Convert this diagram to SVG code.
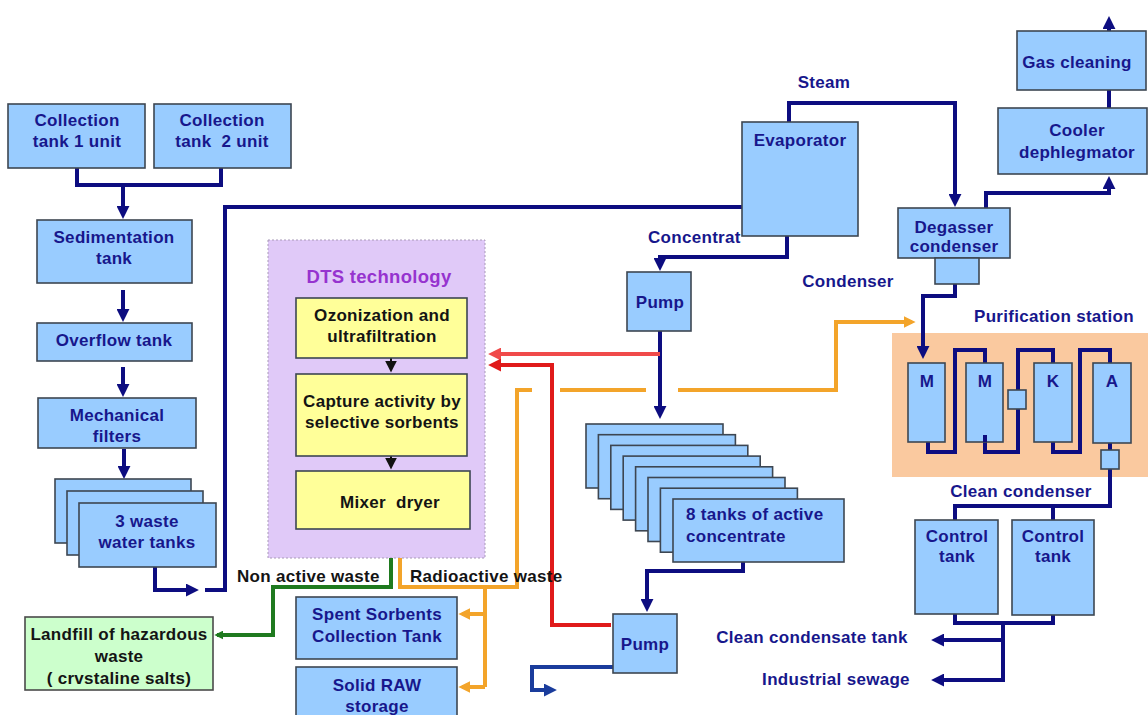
<svg xmlns="http://www.w3.org/2000/svg" width="1148" height="715" viewBox="0 0 1148 715">
  <style>
    .box { fill: #99ccff; stroke: #3d4652; stroke-width: 1.6; }
    .yel { fill: #ffff99; stroke: #3d4652; stroke-width: 1.6; }
    .grn { fill: #ccffcc; stroke: #4a4a4a; stroke-width: 1.6; }
    .t { font-family: "Liberation Sans", Arial, sans-serif; font-weight: bold; font-size: 17px; fill: #17178c; text-anchor: middle; letter-spacing: 0.3px; }
    .k { fill: #141414; }
    .st { text-anchor: start; }
    .navy { fill: none; stroke: #0d0d80; stroke-width: 4; }
    .red1 { fill: none; stroke: #f04a4a; stroke-width: 4; }
    .red2 { fill: none; stroke: #e01a1a; stroke-width: 4; }
    .org { fill: none; stroke: #f3a42a; stroke-width: 4; }
    .gr { fill: none; stroke: #1f7a1f; stroke-width: 4; }
  </style>
  <defs>
    <marker id="ah-navy" viewBox="0 0 10 10" refX="7" refY="5" markerWidth="13" markerHeight="13" markerUnits="userSpaceOnUse" orient="auto">
      <path d="M0,0 L10,5 L0,10 z" fill="#0d0d80"/>
    </marker>
    <marker id="ah-blue" viewBox="0 0 10 10" refX="7" refY="5" markerWidth="13" markerHeight="13" markerUnits="userSpaceOnUse" orient="auto">
      <path d="M0,0 L10,5 L0,10 z" fill="#1a3c9c"/>
    </marker>
    <marker id="ah-red1" viewBox="0 0 10 10" refX="7" refY="5" markerWidth="13" markerHeight="13" markerUnits="userSpaceOnUse" orient="auto">
      <path d="M0,0 L10,5 L0,10 z" fill="#f04a4a"/>
    </marker>
    <marker id="ah-red2" viewBox="0 0 10 10" refX="7" refY="5" markerWidth="13" markerHeight="13" markerUnits="userSpaceOnUse" orient="auto">
      <path d="M0,0 L10,5 L0,10 z" fill="#e01a1a"/>
    </marker>
    <marker id="ah-org" viewBox="0 0 10 10" refX="7" refY="5" markerWidth="12" markerHeight="12" markerUnits="userSpaceOnUse" orient="auto">
      <path d="M0,0 L10,5 L0,10 z" fill="#f3a42a"/>
    </marker>
    <marker id="ah-grn" viewBox="0 0 10 10" refX="7" refY="5" markerWidth="9" markerHeight="9" markerUnits="userSpaceOnUse" orient="auto">
      <path d="M0,0 L10,5 L0,10 z" fill="#1f7a1f"/>
    </marker>
    <marker id="ah-k" viewBox="0 0 10 10" refX="7" refY="5" markerWidth="12" markerHeight="12" markerUnits="userSpaceOnUse" orient="auto">
      <path d="M0,0 L10,5 L0,10 z" fill="#111"/>
    </marker>
  </defs>

  <rect width="1148" height="715" fill="#ffffff"/>

  <!-- purification station background -->
  <g id="purification-station">
    <rect x="892" y="333" width="256" height="144" fill="#fac99f"/>
    <text class="t" x="1054" y="322">Purification station</text>
  </g>

  <!-- DTS technology block -->
  <g id="dts">
    <rect x="268" y="240" width="217" height="318" fill="#e0c9f8" stroke="#a99ab8" stroke-width="1" stroke-dasharray="2,2"/>
    <text class="t" x="379" y="283" style="fill:#9633cf;font-size:18.5px">DTS technology</text>
  </g>

  <!-- connectors -->
  <g id="connectors">
    <!-- collection tanks to sedimentation -->
    <path class="navy" d="M77,168 V185 H221 V168"/>
    <path class="navy" d="M123,185 V215" marker-end="url(#ah-navy)"/>
    <path class="navy" d="M123,290 V318" marker-end="url(#ah-navy)"/>
    <path class="navy" d="M123,367 V393" marker-end="url(#ah-navy)"/>
    <path class="navy" d="M124,449 V475" marker-end="url(#ah-navy)"/>
    <!-- waste water tanks to evaporator -->
    <path class="navy" d="M155,567 V590 H195" marker-end="url(#ah-navy)"/>
    <path class="navy" d="M205,590 H225 V207 H742"/>
    <!-- steam to degasser -->
    <path class="navy" d="M789,122 V103 H955 V203" marker-end="url(#ah-navy)"/>
    <!-- degasser to cooler and gas cleaning -->
    <path class="navy" d="M986,208 V193 H1109 V180" marker-end="url(#ah-navy)"/>
    <path class="navy" d="M1109,108 V90"/>
    <path class="navy" d="M1109,31 V20" marker-end="url(#ah-navy)"/>
    <!-- concentrate to pump -->
    <path class="navy" d="M787,236 V257 H660 V267" marker-end="url(#ah-navy)"/>
    <path class="navy" d="M660,331 V415" marker-end="url(#ah-navy)"/>
    <!-- tanks to second pump -->
    <path class="navy" d="M743,562 V571 H647 V608" marker-end="url(#ah-navy)"/>
    <path d="M613,667 H532 V690 H553" fill="none" stroke="#1a3c9c" stroke-width="4" marker-end="url(#ah-blue)"/>
    <!-- degasser to purification -->
    <path class="navy" d="M955,284 V296 H923 V355" marker-end="url(#ah-navy)"/>
    <path class="navy" d="M928,442 V452 H955 V350 H985 V363"/>
    <path class="navy" d="M985,435 V452 H1018 V350 H1053 V363"/>
    <path class="navy" d="M1053,442 V452 H1080 V350 H1110 V363"/>
    <path class="navy" d="M1110,443 V450"/>
    <path class="navy" d="M1110,469 V506 H955 V520"/>
    <path class="navy" d="M1053,506 V520"/>
    <!-- control tanks outlets -->
    <path class="navy" d="M955,614 V623 H1053 V615"/>
    <path class="navy" d="M1003,623 V680 H935" marker-end="url(#ah-navy)"/>
    <path class="navy" d="M1003,640 H935" marker-end="url(#ah-navy)"/>
    <!-- return lines to DTS -->
    <path class="red1" d="M660,354 H492" marker-end="url(#ah-red1)"/>
    <path class="red2" d="M611,625 H552 V365 H492" marker-end="url(#ah-red2)"/>
    <!-- radioactive waste lines -->
    <path class="org" d="M400,558 V587 H517 V390 H532"/>
    <path class="org" d="M560,390 H646"/>
    <path class="org" d="M678,390 H836 V322 H912" marker-end="url(#ah-org)"/>
    <path class="org" d="M485,587 V687"/>
    <path class="org" d="M485,614 H462" marker-end="url(#ah-org)"/>
    <path class="org" d="M485,687 H462" marker-end="url(#ah-org)"/>
    <!-- non active waste line -->
    <path class="gr" d="M391,558 V587 H273 V635 H217" marker-end="url(#ah-grn)"/>
    <!-- DTS internal arrows -->
    <path d="M391,358 V369" stroke="#111" stroke-width="2" marker-end="url(#ah-k)"/>
    <path d="M391,456 V466" stroke="#111" stroke-width="2" marker-end="url(#ah-k)"/>
  </g>

  <!-- left train -->
  <g id="collection-tank-1">
    <rect class="box" x="8" y="104" width="137" height="64"/>
    <text class="t" x="77" y="126">Collection</text>
    <text class="t" x="77" y="147">tank 1 unit</text>
  </g>
  <g id="collection-tank-2">
    <rect class="box" x="154" y="104" width="137" height="64"/>
    <text class="t" x="222" y="126">Collection</text>
    <text class="t" x="222" y="147" xml:space="preserve">tank  2 unit</text>
  </g>
  <g id="sedimentation-tank">
    <rect class="box" x="37" y="220" width="155" height="63"/>
    <text class="t" x="114" y="243">Sedimentation</text>
    <text class="t" x="114" y="264">tank</text>
  </g>
  <g id="overflow-tank">
    <rect class="box" x="37" y="323" width="155" height="38"/>
    <text class="t" x="114" y="346">Overflow tank</text>
  </g>
  <g id="mechanical-filters">
    <rect class="box" x="38" y="398" width="158" height="50"/>
    <text class="t" x="117" y="421">Mechanical</text>
    <text class="t" x="117" y="442">filters</text>
  </g>
  <g id="waste-water-tanks">
    <rect class="box" x="55" y="479" width="136" height="64"/>
    <rect class="box" x="67" y="491" width="136" height="64"/>
    <rect class="box" x="79" y="503" width="137" height="64"/>
    <text class="t" x="147" y="527">3 waste</text>
    <text class="t" x="147" y="548">water tanks</text>
  </g>

  <!-- DTS stages -->
  <g id="ozonization">
    <rect class="yel" x="296" y="298" width="171" height="60"/>
    <text class="t k" x="382" y="321">Ozonization and</text>
    <text class="t k" x="382" y="342">ultrafiltration</text>
  </g>
  <g id="capture-activity">
    <rect class="yel" x="296" y="374" width="171" height="82"/>
    <text class="t k" x="382" y="407">Capture activity by</text>
    <text class="t k" x="382" y="428">selective sorbents</text>
  </g>
  <g id="mixer-dryer">
    <rect class="yel" x="296" y="471" width="174" height="58"/>
    <text class="t k" x="390" y="508" xml:space="preserve">Mixer  dryer</text>
  </g>

  <!-- waste outputs -->
  <g id="waste-labels">
    <text class="t k st" x="237" y="582">Non active waste</text>
    <text class="t k st" x="410" y="582">Radioactive waste</text>
  </g>
  <g id="landfill">
    <rect class="grn" x="25" y="617" width="188" height="73"/>
    <text class="t k" x="119" y="640">Landfill of hazardous</text>
    <text class="t k" x="119" y="662">waste</text>
    <text class="t k" x="119" y="684">( crvstaline salts)</text>
  </g>
  <g id="spent-sorbents">
    <rect class="box" x="296" y="597" width="161" height="62"/>
    <text class="t" x="377" y="620">Spent Sorbents</text>
    <text class="t" x="377" y="642">Collection Tank</text>
  </g>
  <g id="solid-raw">
    <rect class="box" x="296" y="667" width="161" height="52"/>
    <text class="t" x="377" y="691">Solid RAW</text>
    <text class="t" x="377" y="712">storage</text>
  </g>

  <!-- evaporation train -->
  <g id="evaporator">
    <rect class="box" x="742" y="122" width="116" height="114"/>
    <text class="t" x="800" y="146">Evaporator</text>
  </g>
  <g id="flow-labels">
    <text class="t" x="824" y="88">Steam</text>
    <text class="t st" x="648" y="243">Concentrat</text>
    <text class="t" x="848" y="287">Condenser</text>
    <text class="t" x="1021" y="497">Clean condenser</text>
    <text class="t" x="812" y="643">Clean condensate tank</text>
    <text class="t" x="836" y="685">Industrial sewage</text>
  </g>
  <g id="pump-1">
    <rect class="box" x="627" y="272" width="64" height="59"/>
    <text class="t" x="660" y="308">Pump</text>
  </g>
  <g id="active-concentrate-tanks">
    <rect class="box" x="586" y="424" width="137" height="64"/>
    <rect class="box" x="598.4" y="434.7" width="137" height="64"/>
    <rect class="box" x="610.8" y="445.4" width="137" height="64"/>
    <rect class="box" x="623.2" y="456.1" width="137" height="64"/>
    <rect class="box" x="635.6" y="466.8" width="137" height="64"/>
    <rect class="box" x="648" y="477.5" width="137" height="64"/>
    <rect class="box" x="660.4" y="488.2" width="137" height="64"/>
    <rect class="box" x="673" y="499" width="171" height="63"/>
    <text class="t st" x="686" y="520">8 tanks of active</text>
    <text class="t st" x="686" y="542">concentrate</text>
  </g>
  <g id="pump-2">
    <rect class="box" x="613" y="614" width="64" height="59"/>
    <text class="t" x="645" y="650">Pump</text>
  </g>

  <!-- gas line -->
  <g id="degasser-condenser">
    <rect class="box" x="898" y="208" width="112" height="50"/>
    <rect class="box" x="935" y="258" width="44" height="26"/>
    <text class="t" x="954" y="233">Degasser</text>
    <text class="t" x="954" y="252">condenser</text>
  </g>
  <g id="cooler-dephlegmator">
    <rect class="box" x="998" y="108" width="149" height="66"/>
    <text class="t" x="1077" y="136">Cooler</text>
    <text class="t" x="1077" y="158">dephlegmator</text>
  </g>
  <g id="gas-cleaning">
    <rect class="box" x="1017" y="31" width="129" height="59"/>
    <text class="t" x="1077" y="68">Gas cleaning</text>
  </g>

  <!-- ion exchange columns -->
  <g id="filter-m1">
    <rect class="box" x="908" y="363" width="37" height="79"/>
    <text class="t" x="927" y="387">M</text>
  </g>
  <g id="filter-m2">
    <rect class="box" x="966" y="363" width="37" height="79"/>
    <text class="t" x="985" y="387">M</text>
  </g>
  <g id="filter-k">
    <rect class="box" x="1034" y="363" width="38" height="79"/>
    <text class="t" x="1053" y="387">K</text>
  </g>
  <g id="filter-a">
    <rect class="box" x="1093" y="363" width="38" height="80"/>
    <text class="t" x="1112" y="387">A</text>
  </g>
  <g id="trap-1">
    <rect class="box" x="1008" y="390" width="18" height="19"/>
  </g>
  <g id="trap-2">
    <rect class="box" x="1101" y="450" width="18" height="19"/>
  </g>
  <path class="navy" d="M985,435 V442"/>

  <!-- control tanks -->
  <g id="control-tank-1">
    <rect class="box" x="915" y="520" width="83" height="94"/>
    <text class="t" x="957" y="542">Control</text>
    <text class="t" x="957" y="562">tank</text>
  </g>
  <g id="control-tank-2">
    <rect class="box" x="1012" y="520" width="82" height="95"/>
    <text class="t" x="1053" y="542">Control</text>
    <text class="t" x="1053" y="562">tank</text>
  </g>
</svg>
